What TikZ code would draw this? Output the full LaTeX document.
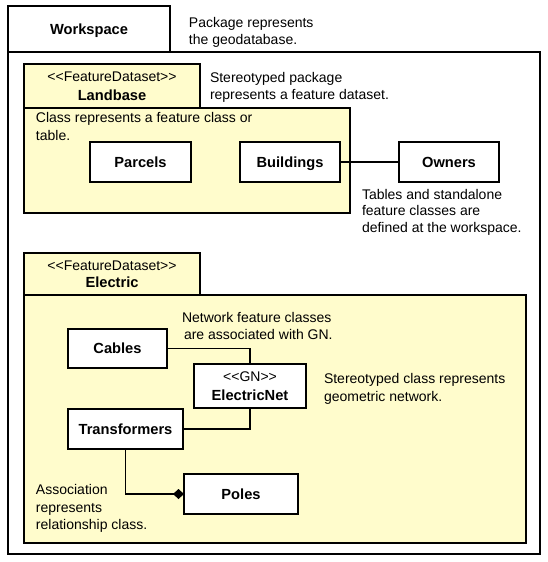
\documentclass[tikz,border=0pt]{standalone}
\usepackage{fontspec}
\setmainfont{Liberation Sans}
\usetikzlibrary{arrows.meta}
\definecolor{pkgyellow}{RGB}{255,252,204}
\newlength\pxu
\setlength\pxu{0.75pt}
\newcommand\stL{<\kern0pt<}
\newcommand\stR{>\kern0pt>}
\newcommand\regf{\fontsize{10.5}{12.75}\selectfont}
\newcommand\boldf{\fontsize{11}{13}\selectfont\bfseries}
\begin{document}
\begin{tikzpicture}[x=0.75pt,y=-0.75pt,
  every node/.style={inner sep=0pt, outer sep=0pt},
  txt/.style={font=\regf, anchor=base west},
  frame/.style={draw, line width=0.8pt, anchor=north west},
  pkgbody/.style={frame, fill=pkgyellow},
  pkgtab/.style={frame, fill=pkgyellow, align=center, font=\regf},
  wsbox/.style={frame, fill=white},
  cls/.style={frame, fill=white, align=center, font=\boldf},
  oneline/.style={text height=8pt, text depth=0pt},
  conn/.style={draw, line width=0.8pt}]
\useasboundingbox (0,0) rectangle (548,562);

% Workspace package
\node[wsbox, minimum width=532\pxu, minimum height=502\pxu] (wsbody) at (8,52) {};
\node[wsbox, oneline, minimum width=162\pxu, minimum height=46\pxu, font=\boldf] (ws) at (8,6) {Workspace};
\node[txt] (n1a) at (189,27) {Package represents};
\node[txt] (n1b) at (189,44) {the geodatabase.};

% Landbase feature dataset
\node[pkgbody, minimum width=326\pxu, minimum height=105\pxu] (lbbody) at (24,108) {};
\node[pkgtab, minimum width=176\pxu, minimum height=44\pxu] (lbtab) at (24,64)
  {\stL FeatureDataset\stR\\[1.2pt]{\boldf Landbase}};
\node[txt] (n2a) at (210,82) {Stereotyped package};
\node[txt] (n2b) at (210,99) {represents a feature dataset.};
\node[txt] (n3a) at (36,122) {Class represents a feature class or};
\node[txt] (n3b) at (36,140) {table.};

\node[cls, oneline, minimum width=101\pxu, minimum height=40\pxu] (par) at (90,142) {Parcels};
\node[cls, oneline, minimum width=100\pxu, minimum height=40\pxu] (bld) at (240,142) {Buildings};
\node[cls, oneline, minimum width=100\pxu, minimum height=40\pxu] (own) at (399,142) {Owners};
\draw[conn] (bld.east) -- (own.west);

\node[txt] (n4a) at (362,199) {Tables and standalone};
\node[txt] (n4b) at (362,215) {feature classes are};
\node[txt] (n4c) at (362,232) {defined at the workspace.};

% Electric feature dataset
\node[pkgbody, minimum width=502\pxu, minimum height=248\pxu] (elbody) at (24,295) {};
\node[pkgtab, minimum width=176\pxu, minimum height=42\pxu] (eltab) at (24,253)
  {\stL FeatureDataset\stR\\[0pt]{\boldf Electric}};

\node[txt] (n5a) at (182,322) {Network feature classes};
\node[txt] (n5b) at (184,339) {are associated with GN.};

\node[cls, oneline, minimum width=99\pxu, minimum height=39\pxu] (cab) at (68,329) {Cables};
\node[cls, minimum width=112\pxu, minimum height=44\pxu, font=\regf] (enet) at (194,364)
  {\stL GN\stR\\[1.5pt]{\boldf ElectricNet}};
\node[cls, oneline, minimum width=115\pxu, minimum height=40\pxu] (trans) at (68,409) {Transformers};
\node[cls, oneline, minimum width=114\pxu, minimum height=40\pxu] (poles) at (184,474) {Poles};

\node[txt] (n6a) at (324,383) {Stereotyped class represents};
\node[txt] (n6b) at (324,401) {geometric network.};

\node[txt] (n7a) at (36,494) {Association};
\node[txt] (n7b) at (36,512) {represents};
\node[txt] (n7c) at (36,529) {relationship class.};

\draw[conn] (cab.east) -| (enet.north);
\draw[conn] (enet.south) |- (trans.east);
\draw[conn, -{Diamond[length=8.25pt, width=7.5pt]}] (trans.south) |- (poles.west);
\end{tikzpicture}
\end{document}
